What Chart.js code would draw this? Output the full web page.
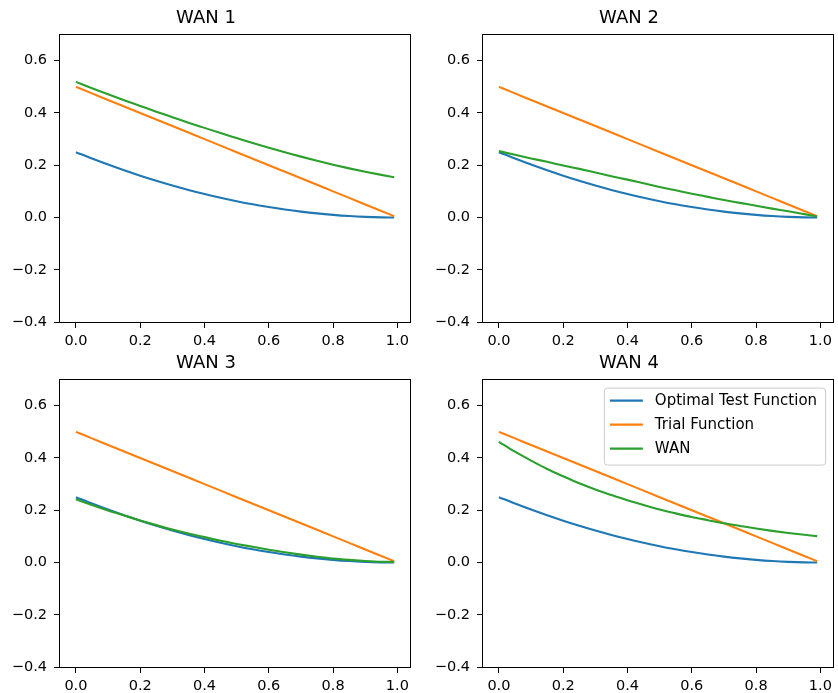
<!DOCTYPE html>
<html>
<head>
<meta charset="utf-8">
<title>WAN</title>
<script src="https://cdn.jsdelivr.net/npm/chart.js@4.4.1/dist/chart.umd.min.js"></script>
<style>
    html, body { margin: 0; padding: 0; background: #fff; overflow: hidden; }
    body { width: 838px; height: 693px; position: relative; }
    canvas { position: absolute; }
</style>
</head>
<body>
<canvas id="wan1" width="414" height="348" style="left:0px;top:0px"></canvas>
<canvas id="wan2" width="414" height="348" style="left:423px;top:0px"></canvas>
<canvas id="wan3" width="414" height="348" style="left:0px;top:345px"></canvas>
<canvas id="wan4" width="414" height="348" style="left:423px;top:345px"></canvas>
<script>
// Sample positions along x
const xValues = [0, 0.05, 0.1, 0.15, 0.2, 0.25, 0.3, 0.35, 0.4, 0.45, 0.5,
    0.55, 0.6, 0.65, 0.7, 0.75, 0.8, 0.85, 0.9, 0.95, 0.99];

// Same in every panel
const optimalTest = [0.25, 0.2256, 0.2025, 0.1806, 0.16, 0.1406, 0.1225, 0.1056, 0.09, 0.0756, 0.0625,
    0.0506, 0.04, 0.0306, 0.0225, 0.0156, 0.01, 0.0056, 0.0025, 0.0006, 0.0001];
const trialFunction = [0.5, 0.475, 0.45, 0.425, 0.4, 0.375, 0.35, 0.325, 0.3, 0.275, 0.25,
    0.225, 0.2, 0.175, 0.15, 0.125, 0.1, 0.075, 0.05, 0.025, 0.005];

// WAN result per panel
const wan1 = [0.519, 0.495, 0.472, 0.449, 0.427, 0.405, 0.384, 0.363, 0.343, 0.323, 0.304,
    0.285, 0.267, 0.250, 0.233, 0.217, 0.202, 0.188, 0.175, 0.163, 0.154];
const wan2 = [0.254, 0.240, 0.226, 0.213, 0.199, 0.186, 0.172, 0.158, 0.145, 0.131, 0.117,
    0.104, 0.091, 0.079, 0.067, 0.056, 0.045, 0.034, 0.024, 0.013, 0.004];
const wan3 = [0.242, 0.220, 0.199, 0.180, 0.161, 0.143, 0.126, 0.111, 0.097, 0.083, 0.071,
    0.060, 0.049, 0.039, 0.030, 0.022, 0.015, 0.010, 0.006, 0.003, 0.002];
const wan4 = [0.462, 0.424, 0.390, 0.358, 0.330, 0.303, 0.279, 0.258, 0.238, 0.220, 0.203,
    0.188, 0.174, 0.162, 0.150, 0.140, 0.130, 0.121, 0.113, 0.106, 0.101];

const panelTitles = ['WAN 1', 'WAN 2', 'WAN 3', 'WAN 4'];
const seriesLabels = ['Optimal Test Function', 'Trial Function', 'WAN'];
const xTicks = [0, 0.2, 0.4, 0.6, 0.8, 1.0];
const yTicks = [-0.4, -0.2, 0, 0.2, 0.4, 0.6];

const lineColors = ['#1f77b4', '#ff7f0e', '#2ca02c'];
const fontFamily = "'DejaVu Sans', sans-serif";

const toPoints = ys => xValues.map((x, i) => ({ x: x, y: ys[i] }));
const fmtTick = v => (v < 0 ? '\u2212' : '') + Math.abs(v).toFixed(1);

// Box round the plot area (matplotlib spines)
const framePlugin = {
    id: 'frame',
    afterDatasetsDraw(chart) {
        const a = chart.chartArea;
        const ctx = chart.ctx;
        ctx.save();
        ctx.strokeStyle = '#000';
        ctx.lineWidth = 1;
        const l = Math.round(a.left) - 0.5, t = Math.round(a.top) - 0.5;
        const r = Math.round(a.right) + 0.5, b = Math.round(a.bottom) + 0.5;
        ctx.strokeRect(l, t, r - l, b - t);
        ctx.restore();
    }
};

// Legend drawn inside the plot area, top right
const insideLegend = {
    id: 'insideLegend',
    afterDraw(chart, args, opts) {
        if (!opts.show) return;
        const ctx = chart.ctx;
        const a = chart.chartArea;
        const items = chart.data.datasets;
        ctx.save();
        ctx.font = '15px ' + fontFamily;
        const textW = Math.max(...items.map(d => ctx.measureText(d.label).width));
        const w = 6 + 33 + 12 + textW + 8;
        const rowH = 24;
        const h = 29 + (items.length - 1) * rowH;
        const x = a.right - 8 - w;
        const y = a.top + 8;

        ctx.beginPath();
        ctx.roundRect(x + 0.5, y + 0.5, w, h, 3);
        ctx.fillStyle = 'rgba(255,255,255,0.8)';
        ctx.fill();
        ctx.strokeStyle = '#cccccc';
        ctx.lineWidth = 1;
        ctx.stroke();

        items.forEach((d, i) => {
            const cy = y + 13 + i * rowH;
            ctx.beginPath();
            ctx.moveTo(x + 6, cy);
            ctx.lineTo(x + 39, cy);
            ctx.strokeStyle = d.borderColor;
            ctx.lineWidth = 2.2;
            ctx.stroke();
            ctx.fillStyle = '#000';
            ctx.textBaseline = 'middle';
            ctx.textAlign = 'left';
            ctx.fillText(d.label, x + 51, cy + 1);
        });
        ctx.restore();
    }
};

function makePanel(id, title, wanData, showLegend) {
    const series = [optimalTest, trialFunction, wanData];
    return new Chart(document.getElementById(id), {
        type: 'line',
        data: {
            datasets: series.map((ys, i) => ({
                label: seriesLabels[i],
                data: toPoints(ys),
                borderColor: lineColors[i],
                backgroundColor: lineColors[i],
                borderWidth: 2.1,
                pointRadius: 0,
                cubicInterpolationMode: 'monotone',
                order: 3 - i
            }))
        },
        options: {
            responsive: false,
            animation: false,
            layout: { padding: { left: 0, right: 2, top: 0, bottom: 0 } },
            plugins: {
                legend: { display: false },
                tooltip: { enabled: false },
                title: {
                    display: true,
                    text: title,
                    color: '#000',
                    font: { family: fontFamily, size: 18, weight: 'normal', lineHeight: 1.2 },
                    padding: { top: 8, bottom: 5 }
                },
                insideLegend: { show: showLegend }
            },
            scales: {
                x: {
                    type: 'linear',
                    min: -0.0495,
                    max: 1.0395,
                    afterBuildTicks: s => { s.ticks = xTicks.map(v => ({ value: v })); },
                    afterFit: s => { s.height = 26; },
                    grid: { drawOnChartArea: false, drawTicks: true, tickLength: 6, tickColor: '#000', tickWidth: 1 },
                    border: { display: false },
                    ticks: {
                        color: '#000',
                        padding: 5,
                        maxRotation: 0,
                        autoSkip: false,
                        font: { family: fontFamily, size: 14.5 },
                        callback: v => fmtTick(v)
                    }
                },
                y: {
                    type: 'linear',
                    min: -0.4,
                    max: 0.7,
                    afterBuildTicks: s => { s.ticks = yTicks.map(v => ({ value: v })); },
                    afterFit: s => { s.width = 60; },
                    grid: { drawOnChartArea: false, drawTicks: true, tickLength: 6, tickColor: '#000', tickWidth: 1 },
                    border: { display: false },
                    ticks: {
                        color: '#000',
                        padding: 7,
                        autoSkip: false,
                        font: { family: fontFamily, size: 14.5 },
                        callback: v => fmtTick(v)
                    }
                }
            }
        },
        plugins: [framePlugin, insideLegend]
    });
}

document.addEventListener('DOMContentLoaded', () => {
    makePanel('wan1', panelTitles[0], wan1, false);
    makePanel('wan2', panelTitles[1], wan2, false);
    makePanel('wan3', panelTitles[2], wan3, false);
    makePanel('wan4', panelTitles[3], wan4, true);
});
</script>
</body>
</html>
